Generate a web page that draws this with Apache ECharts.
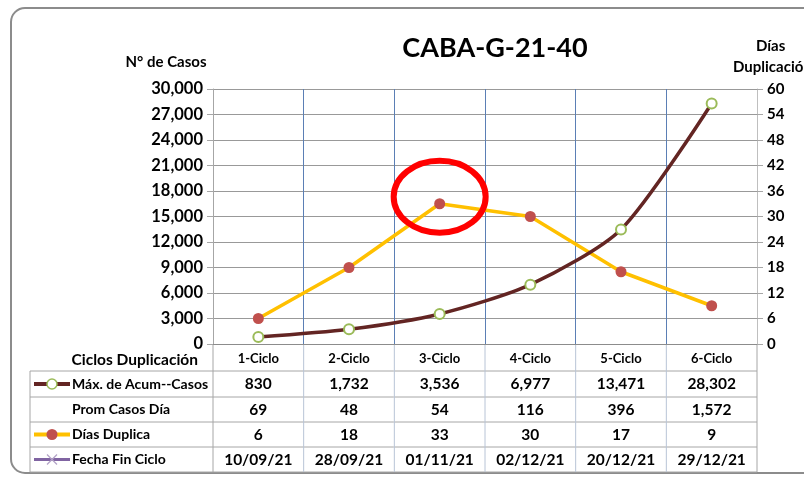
<!DOCTYPE html>
<html>
<head>
<meta charset="utf-8">
<script src="https://cdn.jsdelivr.net/npm/echarts@6/dist/echarts.min.js"></script>
<style>
  html, body { margin: 0; padding: 0; background: #fff; }
  #chart { width: 804px; height: 479px; }
</style>
</head>
<body>
<div id="chart"></div>
<script>
// datos del gráfico
const ciclos = ["1-Ciclo", "2-Ciclo", "3-Ciclo", "4-Ciclo", "5-Ciclo", "6-Ciclo"];
const maxAcumCasos = [830, 1732, 3536, 6977, 13471, 28302];
const promCasosDia = [69, 48, 54, 116, 396, 1572];
const diasDuplica = [6, 18, 33, 30, 17, 9];
const fechaFinCiclo = ["10/09/21", "28/09/21", "01/11/21", "02/12/21", "20/12/21", "29/12/21"];
const highlightIndex = 2; // punto marcado con el círculo rojo

const FONT = "Lato";
const fmt = v => v.toLocaleString("en-US");

const chart = echarts.init(document.getElementById("chart"));

const option = {
  animation: false,
  textStyle: { fontFamily: FONT },
  title: {
    text: "CABA-G-21-40",
    left: 490,
    top: 30,
    textAlign: "center",
    textStyle: { fontSize: 27, fontWeight: "bold", color: "#000", fontFamily: FONT }
  },
  grid: { left: 213, right: 47, top: 89, bottom: 135 },
  xAxis: {
    type: "category",
    data: ciclos,
    boundaryGap: true,
    axisLine: { lineStyle: { color: "#8c8c8c", width: 1 } },
    axisTick: { show: false },
    axisLabel: { fontSize: 13, fontWeight: "bold", color: "#000", margin: 8 },
    splitLine: { show: true, interval: 0, lineStyle: { color: "#5b7fb5", width: 1 } }
  },
  yAxis: [
    {
      type: "value",
      min: 0, max: 30000, interval: 3000,
      position: "left",
      axisLine: { show: true, lineStyle: { color: "#a6a6a6" } },
      axisTick: { show: true, length: 6, lineStyle: { color: "#a6a6a6" } },
      axisLabel: { fontSize: 16.5, fontWeight: "bold", color: "#000", margin: 10, formatter: v => fmt(v) },
      splitLine: { lineStyle: { color: "#999999", width: 1 } }
    },
    {
      type: "value",
      min: 0, max: 60, interval: 6,
      position: "right",
      axisLine: { show: true, lineStyle: { color: "#bfbfbf" } },
      axisTick: { show: true, length: 6, lineStyle: { color: "#a6a6a6" } },
      axisLabel: { fontSize: 15, fontWeight: "bold", color: "#000", margin: 10 },
      splitLine: { show: false }
    }
  ],
  series: [
    {
      name: "Máx. de Acum--Casos",
      type: "line",
      yAxisIndex: 0,
      data: maxAcumCasos,
      smooth: 0.25,
      symbol: "circle",
      symbolSize: 10,
      lineStyle: { color: "#632523", width: 3.5 },
      itemStyle: { color: "#fff", borderColor: "#9bbb59", borderWidth: 2 },
      z: 3
    },
    {
      name: "Días Duplica",
      type: "line",
      yAxisIndex: 1,
      data: diasDuplica,
      symbol: "circle",
      symbolSize: 11,
      lineStyle: { color: "#ffc000", width: 3.5 },
      itemStyle: { color: "#c0504d", borderWidth: 0 },
      z: 2
    }
  ]
};

chart.setOption(option);

// tabla de datos y anotaciones
const grid = chart.getModel().getComponent("grid").coordinateSystem.getRect();
const colX = ciclos.map((c, i) => chart.convertToPixel({ xAxisIndex: 0 }, i));
const rowY = [371, 397, 422, 447, 472];
const tableLeft = 30;
const gray = "#a6a6a6";
const g = [];

// marco exterior
g.push({
  type: "rect",
  shape: { x: 11, y: 8, width: 820, height: 465, r: 14 },
  style: { fill: null, stroke: "#8c8c8c", lineWidth: 2 },
  z: 0
});

// títulos de ejes
g.push({ type: "text", x: 166, y: 62, style: { text: "N° de Casos", font: "bold 15px " + FONT, fill: "#000", align: "center", verticalAlign: "middle" } });
g.push({ type: "text", x: 756, y: 46, style: { text: "Días", font: "bold 15px " + FONT, fill: "#000", align: "left", verticalAlign: "middle" } });
g.push({ type: "text", x: 733, y: 67, style: { text: "Duplicación", font: "bold 15px " + FONT, fill: "#000", align: "left", verticalAlign: "middle" } });
g.push({ type: "text", x: 198, y: 360, style: { text: "Ciclos Duplicación", font: "bold 15.5px " + FONT, fill: "#000", align: "right", verticalAlign: "middle" } });

// líneas horizontales de la tabla
rowY.forEach(y => {
  g.push({ type: "line", shape: { x1: tableLeft, y1: y, x2: grid.x + grid.width, y2: y }, style: { stroke: gray, lineWidth: 1 } });
});
// líneas verticales de la tabla
g.push({ type: "line", shape: { x1: tableLeft, y1: rowY[0], x2: tableLeft, y2: rowY[4] }, style: { stroke: gray, lineWidth: 1 } });
const step = grid.width / ciclos.length;
for (let i = 0; i <= ciclos.length; i++) {
  const x = grid.x + i * step;
  g.push({ type: "line", shape: { x1: x, y1: grid.y + grid.height, x2: x, y2: rowY[4] }, style: { stroke: i === 0 || i === ciclos.length ? gray : "#b8c4d6", lineWidth: 1 } });
}

// filas
const rows = [
  { label: "Máx. de Acum--Casos", values: maxAcumCasos.map(fmt), key: "casos" },
  { label: "Prom Casos Día", values: promCasosDia.map(fmt), key: null },
  { label: "Días Duplica", values: diasDuplica.map(String), key: "dias" },
  { label: "Fecha Fin Ciclo", values: fechaFinCiclo, key: "fecha" }
];
rows.forEach((r, ri) => {
  const cy = (rowY[ri] + rowY[ri + 1]) / 2;
  g.push({ type: "text", x: 72, y: cy, style: { text: r.label, font: "bold 14px " + FONT, fill: "#000", align: "left", verticalAlign: "middle" } });
  r.values.forEach((v, ci) => {
    g.push({ type: "text", x: colX[ci], y: cy, style: { text: v, font: "bold 15.5px " + FONT, fill: "#000", align: "center", verticalAlign: "middle" } });
  });
  // leyenda
  if (r.key === "casos") {
    g.push({ type: "line", shape: { x1: 34, y1: cy, x2: 70, y2: cy }, style: { stroke: "#632523", lineWidth: 4 } });
    g.push({ type: "circle", shape: { cx: 52, cy: cy, r: 5 }, style: { fill: "#fff", stroke: "#9bbb59", lineWidth: 1.5 } });
  } else if (r.key === "dias") {
    g.push({ type: "line", shape: { x1: 34, y1: cy, x2: 70, y2: cy }, style: { stroke: "#ffc000", lineWidth: 4 } });
    g.push({ type: "circle", shape: { cx: 52, cy: cy, r: 5.5 }, style: { fill: "#c0504d" } });
  } else if (r.key === "fecha") {
    g.push({ type: "line", shape: { x1: 34, y1: cy, x2: 70, y2: cy }, style: { stroke: "#8064a2", lineWidth: 3 } });
    g.push({ type: "line", shape: { x1: 47, y1: cy - 5, x2: 57, y2: cy + 5 }, style: { stroke: "#b3a2c7", lineWidth: 1.2 } });
    g.push({ type: "line", shape: { x1: 47, y1: cy + 5, x2: 57, y2: cy - 5 }, style: { stroke: "#b3a2c7", lineWidth: 1.2 } });
  }
});

// círculo rojo alrededor del punto destacado
const hp = chart.convertToPixel({ xAxisIndex: 0, yAxisIndex: 1 }, [highlightIndex, diasDuplica[highlightIndex]]);
g.push({
  type: "ellipse",
  shape: { cx: hp[0], cy: hp[1] - 7, rx: 46, ry: 36 },
  style: { fill: null, stroke: "#ff0000", lineWidth: 6 },
  z: 10
});

chart.setOption({ graphic: g });
</script>
</body>
</html>
